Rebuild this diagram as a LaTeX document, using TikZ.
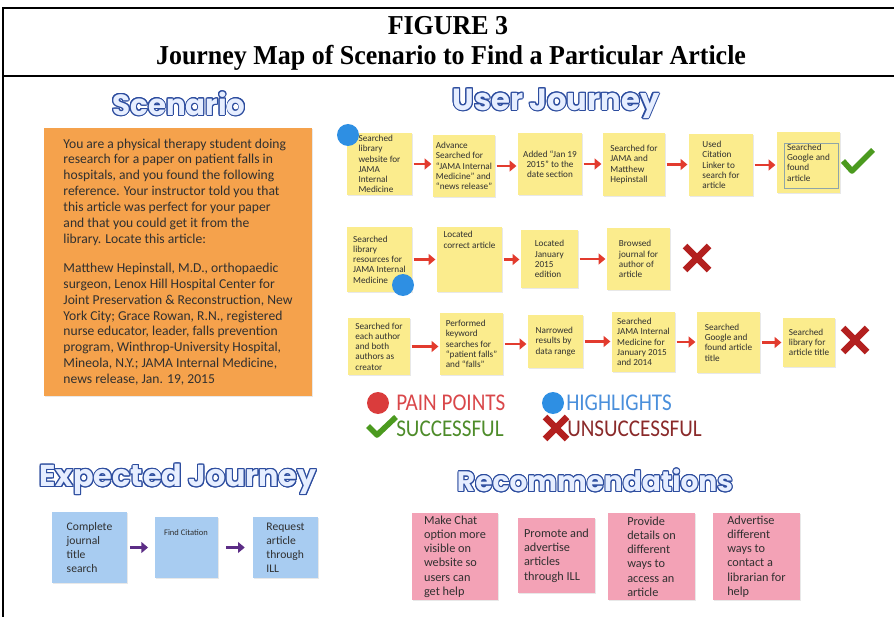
\documentclass[tikz,border=0pt]{standalone}
\usepackage{fontspec}
\setmainfont{Liberation Serif}
\newfontfamily\handfont{Carlito}
\newfontfamily\headfont{Poppins}
\usepackage{contour}
\usetikzlibrary{arrows.meta,shadows}
\definecolor{orangenote}{HTML}{F5A24C}
\definecolor{yellownote}{HTML}{FBEC8D}
\definecolor{bluenote}{HTML}{A8CCF1}
\definecolor{pinknote}{HTML}{F3A2B6}
\definecolor{notetext}{HTML}{303030}
\definecolor{arrowred}{HTML}{E23B2E}
\definecolor{arrowpurple}{HTML}{5C2D86}
\definecolor{dotblue}{HTML}{2E8FE3}
\definecolor{dotred}{HTML}{DA3C3C}
\definecolor{checkgreen}{HTML}{4B9A1F}
\definecolor{xred}{HTML}{B3201F}
\definecolor{painred}{HTML}{D9474A}
\definecolor{highblue}{HTML}{4A8FDB}
\definecolor{succgreen}{HTML}{4E8C2A}
\definecolor{unsuccred}{HTML}{8A2A2A}
\definecolor{headblue}{HTML}{2C4C9E}
\definecolor{headfill}{HTML}{E6EEFF}
\definecolor{innerbox}{HTML}{8FA5A8}
\contourlength{0.8pt}
\newcommand{\headtext}[1]{\contour{headblue}{\textcolor{headfill}{#1}}}
\newcommand{\stickynote}[7]{%
  \pgfmathsetmacro{\snW}{(#5-#3)*0.75}%
  \pgfmathsetmacro{\snH}{(#6-#4)*0.75}%
  \pgfmathsetmacro{\snX}{(#3+#5)/2}%
  \pgfmathsetmacro{\snY}{(#4+#6)/2}%
  \node[#1, minimum width=\snW pt, minimum height=\snH pt] (#2) at (\snX,\snY) {#7};}
\tikzset{
  notebase/.style={rectangle, inner sep=1pt, align=left, text=notetext,
    drop shadow={shadow xshift=0.9pt, shadow yshift=-0.9pt, opacity=0.18}},
  journeynote/.style={notebase, fill=yellownote, font=\handfont\fontsize{6.9}{7.7}\selectfont},
  scenarionote/.style={notebase, fill=orangenote, font=\handfont\fontsize{10.2}{11.9}\selectfont},
  expectnote/.style={notebase, fill=bluenote, font=\handfont\fontsize{8.7}{10.4}\selectfont},
  recnote/.style={notebase, fill=pinknote, font=\handfont\fontsize{9.2}{10.7}\selectfont},
  rarrow/.style={draw=arrowred, line width=2.2pt, -{Triangle[length=5pt,width=8pt]},
    shorten <=1pt, shorten >=1pt},
  parrow/.style={draw=arrowpurple, line width=2.2pt, -{Triangle[length=5pt,width=8pt]}},
  bluedot/.style={circle, fill=dotblue, inner sep=0pt, minimum size=16.5pt},
  reddot/.style={circle, fill=dotred, inner sep=0pt, minimum size=16.5pt},
  checkmark/.style={draw=checkgreen, line width=4.2pt, line join=round},
  xmark/.style={draw=xred, line width=5pt},
  heading/.style={inner sep=0pt},
  titletxt/.style={inner sep=0pt, font=\bfseries\fontsize{20.5}{22}\selectfont},
  legendtxt/.style={inner sep=0pt, anchor=west, font=\handfont\fontsize{18}{18}\selectfont},
  frameline/.style={draw=black, line width=1.2pt}
}
\begin{document}
\begin{tikzpicture}[x=0.75pt,y=-0.75pt]
\useasboundingbox (0,0) rectangle (894,617);
% frame
\draw[frameline] (3,617) -- (3,8) -- (894,8);
\draw[frameline] (3,76) -- (894,76);
\node[titletxt] (figno) at (448,26) {\scalebox{0.95}[1]{FIGURE 3}};
\node[titletxt] (figtitle) at (451,58) {\scalebox{0.95}[1]{Journey Map of Scenario to Find a Particular Article}};
% headings
\node[heading] (hscen) at (179,104) {\resizebox{100pt}{!}{\headfont\bfseries\fontsize{24}{26}\selectfont\headtext{Scenario}}};
\node[heading] (huser) at (556,104) {\resizebox{155pt}{!}{\headfont\bfseries\fontsize{24}{26}\selectfont\headtext{User Journey}}};
\node[heading] (hexp) at (178,480) {\resizebox{208pt}{!}{\headfont\bfseries\fontsize{24}{26}\selectfont\headtext{Expected Journey}}};
\node[heading] (hrec) at (595,481) {\resizebox{207pt}{!}{\headfont\bfseries\fontsize{24}{26}\selectfont\headtext{Recommendations}}};
% scenario
\stickynote{scenarionote}{scen}{44}{128}{312}{396}{You are a physical therapy student doing\\
research for a paper on patient falls in\\
hospitals, and you found the following\\
reference. Your instructor told you that\\
this article was perfect for your paper\\
and that you could get it from the\\
library. Locate this article:\\[10pt]
Matthew Hepinstall, M.D., orthopaedic\\
surgeon, Lenox Hill Hospital Center for\\
Joint Preservation \& Reconstruction, New\\
York City; Grace Rowan, R.N., registered\\
nurse educator, leader, falls prevention\\
program, Winthrop-University Hospital,\\
Mineola, N.Y.; JAMA Internal Medicine,\\
news release, Jan. 19, 2015}
% row 1
\stickynote{journeynote}{ra}{347}{133}{412}{195}{Searched\\library\\website for\\JAMA\\Internal\\Medicine}
\stickynote{journeynote}{rb}{433}{135}{495}{197}{Advance\\Searched for\\“JAMA Internal\\Medicine” and\\“news release”}
\stickynote{journeynote, align=center}{rc}{518}{133}{582}{195}{Added “Jan 19\\2015” to the\\date section}
\stickynote{journeynote}{rd}{603}{133}{665}{196}{Searched for\\JAMA and\\Matthew\\Hepinstall}
\stickynote{journeynote}{re}{689}{134}{753}{196}{Used\\Citation\\Linker to\\search for\\article}
\stickynote{journeynote}{rf}{777}{132}{840}{193}{Searched\\Google and\\found\\article}
\draw[innerbox, line width=0.6pt] (784,143) rectangle (838,188);
\node[bluedot] (hla) at (348,135) {};
\draw[rarrow] (ra.east) -- (ra.east -| rb.west);
\draw[rarrow] (rb.east) -- (rb.east -| rc.west);
\draw[rarrow] (rc.east) -- (rc.east -| rd.west);
\draw[rarrow] (rd.east) -- (rd.east -| re.west);
\draw[rarrow] (re.east) -- (re.east -| rf.west);
\draw[checkmark] (843,161) -- (852,171) -- (873,150);
% row 2
\stickynote{journeynote}{sa}{347}{227}{412}{292}{Searched\\library\\resources for\\JAMA Internal\\Medicine}
\stickynote{journeynote}{sb}{437}{227}{502}{292}{Located\\correct article\\[22pt]}
\stickynote{journeynote}{sc}{521}{230}{578}{288}{Located\\January\\2015\\edition}
\stickynote{journeynote}{sd}{607}{228}{670}{290}{Browsed\\journal for\\author of\\article}
\node[bluedot] (hlb) at (403,285) {};
\draw[rarrow] (sa.east) -- (sa.east -| sb.west);
\draw[rarrow] (sb.east) -- (sb.east -| sc.west);
\draw[rarrow] (sc.east) -- (sc.east -| sd.west);
\draw[xmark] (685,246) -- (709,270) (685,270) -- (709,246);
% row 3
\stickynote{journeynote}{ta}{348}{318}{410}{375}{Searched for\\each author\\and both\\authors as\\creator}
\stickynote{journeynote}{tb}{440}{313}{503}{375}{Performed\\keyword\\searches for\\“patient falls”\\and “falls”}
\stickynote{journeynote}{tc}{528}{315}{583}{368}{Narrowed\\results by\\data range}
\stickynote{journeynote}{td}{612}{312}{675}{372}{Searched\\JAMA Internal\\Medicine for\\January 2015\\and 2014}
\stickynote{journeynote}{te}{697}{312}{760}{373}{Searched\\Google and\\found article\\title}
\stickynote{journeynote}{tf}{783}{318}{835}{367}{Searched\\library for\\article title}
\draw[rarrow] (ta.east) -- (ta.east -| tb.west);
\draw[rarrow] (tb.east) -- (tb.east -| tc.west);
\draw[rarrow] (tc.east) -- (tc.east -| td.west);
\draw[rarrow] (td.east) -- (td.east -| te.west);
\draw[rarrow] (te.east) -- (te.east -| tf.west);
\draw[xmark] (843,328) -- (867,352) (843,352) -- (867,328);
% legend
\node[reddot] (lgpain) at (378,403) {};
\node[legendtxt, text=painred] (lgpaintxt) at (396,403) {\scalebox{0.88}[1]{PAIN POINTS}};
\node[bluedot] (lghigh) at (553,403) {};
\node[legendtxt, text=highblue] (lghightxt) at (566,403) {\scalebox{0.88}[1]{HIGHLIGHTS}};
\draw[checkmark] (368,426) -- (377,435) -- (396,417);
\node[legendtxt, text=succgreen] (lgsucctxt) at (396,429) {\scalebox{0.88}[1]{SUCCESSFUL}};
\draw[xmark] (545,417) -- (567,439) (545,439) -- (567,417);
\node[legendtxt, text=unsuccred] (lgunstxt) at (567,429) {\scalebox{0.88}[1]{UNSUCCESSFUL}};
% expected journey
\stickynote{expectnote}{ea}{52}{512}{127}{583}{Complete\\journal\\title\\search}
\stickynote{expectnote}{eb}{155}{517}{218}{578}{}
\node[font=\handfont\fontsize{6.4}{7}\selectfont, text=notetext, inner sep=0pt] (ebtxt) at (186,533) {Find Citation};
\stickynote{expectnote}{ec}{253}{517}{318}{578}{Request\\article\\through\\ILL}
\draw[parrow] ([xshift=2pt]ea.east) -- ([xshift=-5pt]ea.east -| eb.west);
\draw[parrow] ([xshift=6pt]eb.east) -- ([xshift=-6pt]eb.east -| ec.west);
% recommendations
\stickynote{recnote}{rca}{412}{513}{498}{600}{Make Chat\\option more\\visible on\\website so\\users can\\get help}
\stickynote{recnote}{rcb}{518}{518}{595}{593}{Promote and\\advertise\\articles\\through ILL}
\stickynote{recnote}{rcc}{608}{513}{695}{600}{Provide\\details on\\different\\ways to\\access an\\article}
\stickynote{recnote}{rcd}{713}{513}{800}{600}{Advertise\\different\\ways to\\contact a\\librarian for\\help}
\end{tikzpicture}
\end{document}
